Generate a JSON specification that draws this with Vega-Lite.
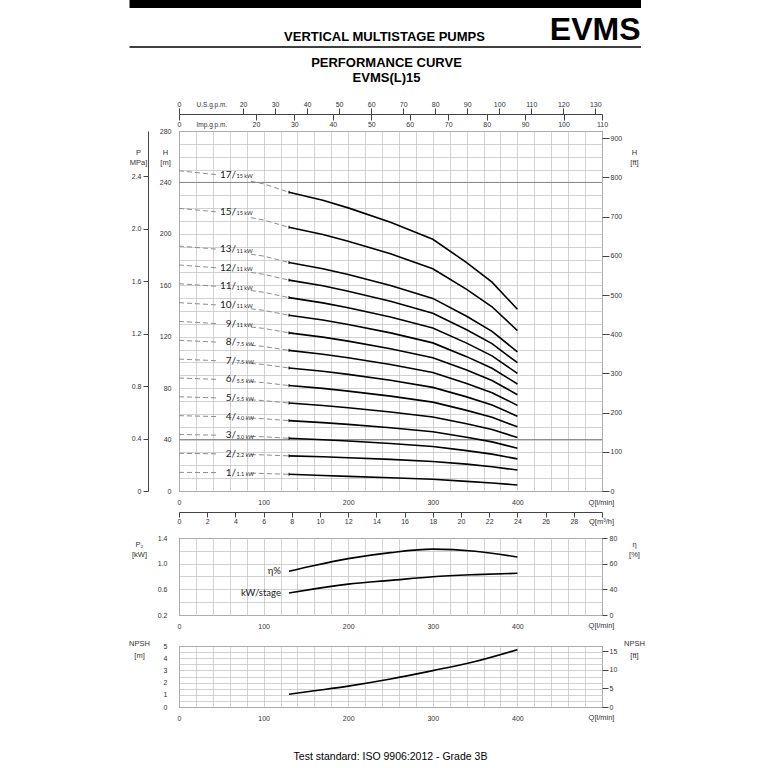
{
  "$schema": "https://vega.github.io/schema/vega-lite/v6.json",
  "padding": {"left": 128, "top": 0, "right": 4, "bottom": 4},
  "datasets": {
    "dash": [
      {"n":1,"p":"a","Q":0,"H":14.5},{"n":1,"p":"a","Q":45,"H":14.3},{"n":1,"p":"b","Q":85,"H":13.9},{"n":1,"p":"b","Q":100,"H":13.6},{"n":1,"p":"b","Q":130,"H":13.0},
      {"n":2,"p":"a","Q":0,"H":29.3},{"n":2,"p":"a","Q":45,"H":28.9},{"n":2,"p":"b","Q":85,"H":28.3},{"n":2,"p":"b","Q":100,"H":28.1},{"n":2,"p":"b","Q":130,"H":27.3},
      {"n":3,"p":"a","Q":0,"H":44.0},{"n":3,"p":"a","Q":45,"H":43.4},{"n":3,"p":"b","Q":85,"H":42.5},{"n":3,"p":"b","Q":100,"H":42.2},{"n":3,"p":"b","Q":130,"H":41.0},
      {"n":4,"p":"a","Q":0,"H":58.6},{"n":4,"p":"a","Q":45,"H":57.9},{"n":4,"p":"b","Q":85,"H":56.7},{"n":4,"p":"b","Q":100,"H":56.2},{"n":4,"p":"b","Q":130,"H":54.7},
      {"n":5,"p":"a","Q":0,"H":73.3},{"n":5,"p":"a","Q":45,"H":72.4},{"n":5,"p":"b","Q":85,"H":70.9},{"n":5,"p":"b","Q":100,"H":70.3},{"n":5,"p":"b","Q":130,"H":68.4},
      {"n":6,"p":"a","Q":0,"H":87.9},{"n":6,"p":"a","Q":45,"H":86.8},{"n":6,"p":"b","Q":85,"H":85.0},{"n":6,"p":"b","Q":100,"H":84.3},{"n":6,"p":"b","Q":130,"H":82.0},
      {"n":7,"p":"a","Q":0,"H":102.6},{"n":7,"p":"a","Q":45,"H":101.3},{"n":7,"p":"b","Q":85,"H":99.2},{"n":7,"p":"b","Q":100,"H":98.4},{"n":7,"p":"b","Q":130,"H":95.7},
      {"n":8,"p":"a","Q":0,"H":117.2},{"n":8,"p":"a","Q":45,"H":115.8},{"n":8,"p":"b","Q":85,"H":113.4},{"n":8,"p":"b","Q":100,"H":112.4},{"n":8,"p":"b","Q":130,"H":109.4},
      {"n":9,"p":"a","Q":0,"H":131.9},{"n":9,"p":"a","Q":45,"H":130.2},{"n":9,"p":"b","Q":85,"H":127.5},{"n":9,"p":"b","Q":100,"H":126.5},{"n":9,"p":"b","Q":130,"H":123.0},
      {"n":10,"p":"a","Q":0,"H":146.5},{"n":10,"p":"a","Q":45,"H":144.7},{"n":10,"p":"b","Q":85,"H":141.7},{"n":10,"p":"b","Q":100,"H":140.5},{"n":10,"p":"b","Q":130,"H":136.7},
      {"n":11,"p":"a","Q":0,"H":161.2},{"n":11,"p":"a","Q":45,"H":159.2},{"n":11,"p":"b","Q":85,"H":155.9},{"n":11,"p":"b","Q":100,"H":154.6},{"n":11,"p":"b","Q":130,"H":150.4},
      {"n":12,"p":"a","Q":0,"H":175.8},{"n":12,"p":"a","Q":45,"H":173.6},{"n":12,"p":"b","Q":85,"H":170.0},{"n":12,"p":"b","Q":100,"H":168.6},{"n":12,"p":"b","Q":130,"H":164.0},
      {"n":13,"p":"a","Q":0,"H":190.5},{"n":13,"p":"a","Q":45,"H":188.1},{"n":13,"p":"b","Q":85,"H":184.2},{"n":13,"p":"b","Q":100,"H":182.7},{"n":13,"p":"b","Q":130,"H":177.7},
      {"n":15,"p":"a","Q":0,"H":219.8},{"n":15,"p":"a","Q":45,"H":217.1},{"n":15,"p":"b","Q":85,"H":212.6},{"n":15,"p":"b","Q":100,"H":210.8},{"n":15,"p":"b","Q":130,"H":205.1},
      {"n":17,"p":"a","Q":0,"H":249.1},{"n":17,"p":"a","Q":45,"H":246.0},{"n":17,"p":"b","Q":85,"H":240.9},{"n":17,"p":"b","Q":100,"H":238.9},{"n":17,"p":"b","Q":130,"H":232.4}
    ],
    "solid": [
      {"n":1,"Q":130,"H":13.0},{"n":1,"Q":170,"H":12.0},{"n":1,"Q":200,"H":11.4},{"n":1,"Q":250,"H":10.3},{"n":1,"Q":300,"H":9.1},{"n":1,"Q":340,"H":7.5},{"n":1,"Q":370,"H":6.2},{"n":1,"Q":400,"H":4.7},
      {"n":2,"Q":130,"H":27.3},{"n":2,"Q":170,"H":26.6},{"n":2,"Q":200,"H":25.9},{"n":2,"Q":250,"H":24.6},{"n":2,"Q":300,"H":23.0},{"n":2,"Q":340,"H":20.9},{"n":2,"Q":370,"H":18.9},{"n":2,"Q":400,"H":16.3},
      {"n":3,"Q":130,"H":41.0},{"n":3,"Q":170,"H":39.9},{"n":3,"Q":200,"H":38.9},{"n":3,"Q":250,"H":36.9},{"n":3,"Q":300,"H":34.6},{"n":3,"Q":340,"H":31.4},{"n":3,"Q":370,"H":28.7},{"n":3,"Q":400,"H":25.0},
      {"n":4,"Q":130,"H":54.7},{"n":4,"Q":170,"H":53.2},{"n":4,"Q":200,"H":51.8},{"n":4,"Q":250,"H":49.2},{"n":4,"Q":300,"H":46.1},{"n":4,"Q":340,"H":41.8},{"n":4,"Q":370,"H":38.2},{"n":4,"Q":400,"H":33.3},
      {"n":5,"Q":130,"H":68.4},{"n":5,"Q":170,"H":66.5},{"n":5,"Q":200,"H":64.8},{"n":5,"Q":250,"H":61.5},{"n":5,"Q":300,"H":57.6},{"n":5,"Q":340,"H":52.3},{"n":5,"Q":370,"H":47.8},{"n":5,"Q":400,"H":41.6},
      {"n":6,"Q":130,"H":82.0},{"n":6,"Q":170,"H":79.8},{"n":6,"Q":200,"H":77.7},{"n":6,"Q":250,"H":73.8},{"n":6,"Q":300,"H":69.1},{"n":6,"Q":340,"H":62.7},{"n":6,"Q":370,"H":57.3},{"n":6,"Q":400,"H":49.9},
      {"n":7,"Q":130,"H":95.7},{"n":7,"Q":170,"H":93.1},{"n":7,"Q":200,"H":90.7},{"n":7,"Q":250,"H":86.1},{"n":7,"Q":300,"H":80.6},{"n":7,"Q":340,"H":73.2},{"n":7,"Q":370,"H":66.9},{"n":7,"Q":400,"H":58.2},
      {"n":8,"Q":130,"H":109.4},{"n":8,"Q":170,"H":106.4},{"n":8,"Q":200,"H":103.6},{"n":8,"Q":250,"H":98.4},{"n":8,"Q":300,"H":92.2},{"n":8,"Q":340,"H":83.6},{"n":8,"Q":370,"H":76.4},{"n":8,"Q":400,"H":66.6},
      {"n":9,"Q":130,"H":123.0},{"n":9,"Q":170,"H":119.7},{"n":9,"Q":200,"H":116.6},{"n":9,"Q":250,"H":110.7},{"n":9,"Q":300,"H":103.7},{"n":9,"Q":340,"H":94.1},{"n":9,"Q":370,"H":86.0},{"n":9,"Q":400,"H":74.9},
      {"n":10,"Q":130,"H":136.7},{"n":10,"Q":170,"H":133.0},{"n":10,"Q":200,"H":129.5},{"n":10,"Q":250,"H":123.0},{"n":10,"Q":300,"H":115.2},{"n":10,"Q":340,"H":104.5},{"n":10,"Q":370,"H":95.5},{"n":10,"Q":400,"H":83.2},
      {"n":11,"Q":130,"H":150.4},{"n":11,"Q":170,"H":146.3},{"n":11,"Q":200,"H":142.5},{"n":11,"Q":250,"H":135.3},{"n":11,"Q":300,"H":126.7},{"n":11,"Q":340,"H":115.0},{"n":11,"Q":370,"H":105.1},{"n":11,"Q":400,"H":91.5},
      {"n":12,"Q":130,"H":164.0},{"n":12,"Q":170,"H":159.6},{"n":12,"Q":200,"H":155.4},{"n":12,"Q":250,"H":147.6},{"n":12,"Q":300,"H":138.2},{"n":12,"Q":340,"H":125.4},{"n":12,"Q":370,"H":114.6},{"n":12,"Q":400,"H":99.8},
      {"n":13,"Q":130,"H":177.7},{"n":13,"Q":170,"H":172.9},{"n":13,"Q":200,"H":168.4},{"n":13,"Q":250,"H":159.9},{"n":13,"Q":300,"H":149.8},{"n":13,"Q":340,"H":135.9},{"n":13,"Q":370,"H":124.2},{"n":13,"Q":400,"H":108.2},
      {"n":15,"Q":130,"H":205.1},{"n":15,"Q":170,"H":199.5},{"n":15,"Q":200,"H":194.3},{"n":15,"Q":250,"H":184.5},{"n":15,"Q":300,"H":172.8},{"n":15,"Q":340,"H":156.8},{"n":15,"Q":370,"H":143.3},{"n":15,"Q":400,"H":124.8},
      {"n":17,"Q":130,"H":232.4},{"n":17,"Q":170,"H":226.1},{"n":17,"Q":200,"H":220.2},{"n":17,"Q":250,"H":209.1},{"n":17,"Q":300,"H":195.8},{"n":17,"Q":340,"H":177.7},{"n":17,"Q":370,"H":162.4},{"n":17,"Q":400,"H":141.4}
    ],
    "labels": [
      {"n":1,"st":"1/","kw":"1.1 kW"},
      {"n":2,"st":"2/","kw":"2.2 kW"},
      {"n":3,"st":"3/","kw":"3.0 kW"},
      {"n":4,"st":"4/","kw":"4.0 kW"},
      {"n":5,"st":"5/","kw":"5.5 kW"},
      {"n":6,"st":"6/","kw":"5.5 kW"},
      {"n":7,"st":"7/","kw":"7.5 kW"},
      {"n":8,"st":"8/","kw":"7.5 kW"},
      {"n":9,"st":"9/","kw":"11 kW"},
      {"n":10,"st":"10/","kw":"11 kW"},
      {"n":11,"st":"11/","kw":"11 kW"},
      {"n":12,"st":"12/","kw":"11 kW"},
      {"n":13,"st":"13/","kw":"11 kW"},
      {"n":15,"st":"15/","kw":"15 kW"},
      {"n":17,"st":"17/","kw":"15 kW"}
    ],
    "kw": [
      {"Q":130,"P":0.544},{"Q":160,"P":0.607},{"Q":200,"P":0.681},{"Q":250,"P":0.739},{"Q":300,"P":0.797},{"Q":350,"P":0.829},{"Q":400,"P":0.85}
    ],
    "eta": [
      {"Q":130,"eta":54.1},{"Q":160,"eta":58.6},{"Q":200,"eta":63.9},{"Q":250,"eta":68.6},{"Q":300,"eta":71.3},{"Q":350,"eta":69.7},{"Q":400,"eta":65.2}
    ],
    "npsh": [
      {"Q":130,"NPSH":1.05},{"Q":160,"NPSH":1.33},{"Q":200,"NPSH":1.71},{"Q":250,"NPSH":2.29},{"Q":300,"NPSH":2.98},{"Q":350,"NPSH":3.73},{"Q":400,"NPSH":4.7}
    ]
  },
  "spacing": 8,
  "vconcat": [
    {
      "width": 462,
      "height": 47,
      "view": {"stroke": null},
      "data": {"values": [{}]},
      "layer": [
        {
          "mark": {"type": "rect", "color": "black"},
          "encoding": {
            "x": {"datum": -49.5, "type": "quantitative", "scale": {"domain": [0, 462], "nice": false, "zero": false}, "axis": null},
            "x2": {"datum": 462},
            "y": {"datum": 0, "type": "quantitative", "scale": {"domain": [0, 47], "nice": false, "reverse": true}, "axis": null},
            "y2": {"datum": 8}
          }
        },
        {
          "mark": {"type": "rule", "color": "black", "strokeWidth": 1.5},
          "encoding": {
            "x": {"datum": -49.5, "type": "quantitative"},
            "x2": {"datum": 462},
            "y": {"datum": 47, "type": "quantitative"}
          }
        },
        {
          "mark": {"type": "text", "font": "Liberation Sans", "fontSize": 13, "fontWeight": "bold", "align": "center", "baseline": "alphabetic", "color": "black"},
          "encoding": {
            "x": {"datum": 205.5, "type": "quantitative"},
            "y": {"datum": 40.6, "type": "quantitative"},
            "text": {"value": "VERTICAL MULTISTAGE PUMPS"}
          }
        },
        {
          "mark": {"type": "text", "font": "Liberation Sans", "fontSize": 32, "fontWeight": "bold", "align": "right", "baseline": "alphabetic", "color": "black"},
          "encoding": {
            "x": {"datum": 461.5, "type": "quantitative"},
            "y": {"datum": 39.5, "type": "quantitative"},
            "text": {"value": "EVMS"}
          }
        }
      ]
    },
    {
      "width": 423,
      "height": 360,
      "title": {"text": ["PERFORMANCE CURVE", "EVMS(L)15"], "font": "Liberation Sans", "fontSize": 13, "fontWeight": "bold", "lineHeight": 15, "offset": 15, "anchor": "middle", "color": "black", "dx": -4},
      "layer": [
        {
          "data": {"values": [{"Q": 0, "H": 40}, {"Q": 0, "H": 240}]},
          "mark": {"type": "rule", "color": "#888", "strokeWidth": 1},
          "encoding": {"y": {"field": "H", "type": "quantitative", "scale": {"domain": [0, 280], "nice": false, "zero": false}, "axis": null}}
        },
        {
          "data": {"name": "dash"},
          "mark": {"type": "line", "color": "#8c8c8c", "strokeWidth": 1, "strokeDash": [5, 3]},
          "encoding": {
            "x": {
              "field": "Q", "type": "quantitative",
              "scale": {"domain": [0, 500], "nice": false, "zero": false},
              "axis": {
                "values": [0,20,40,60,80,100,120,140,160,180,200,220,240,260,280,300,320,340,360,380,400,420,440,460,480,500],
                "labelExpr": "datum.value % 100 == 0 && datum.value < 500 ? datum.label : ''",
                "ticks": false, "tickSize": 0, "labelPadding": 7, "labelFlush": false, "labelOverlap": false,
                "grid": true, "domain": false,
                "title": "Q[l/min]", "titleX": 422, "titleY": 11, "titleAlign": "center", "titleBaseline": "middle"
              }
            },
            "y": {
              "field": "H", "type": "quantitative",
              "scale": {"domain": [0, 280], "nice": false, "zero": false},
              "axis": {
                "values": [0,10,20,30,40,50,60,70,80,90,100,110,120,130,140,150,160,170,180,190,200,210,220,230,240,250,260,270,280],
                "labelExpr": "datum.value % 40 == 0 ? datum.label : ''",
                "ticks": false, "tickSize": 0, "labelPadding": 8, "labelOverlap": false, "labelFlush": false,
                "grid": true, "domain": false,
                "title": ["H", "[m]"], "titleAngle": 0, "titleX": -14, "titleY": 17, "titleAlign": "center", "titleBaseline": "top", "titleLineHeight": 10
              }
            },
            "detail": [{"field": "n"}, {"field": "p"}]
          }
        },
        {
          "data": {"name": "solid"},
          "mark": {"type": "line", "color": "black", "strokeWidth": 1.6},
          "encoding": {
            "x": {"field": "Q", "type": "quantitative", "scale": {"domain": [0, 500], "nice": false, "zero": false}, "axis": null},
            "y": {"field": "H", "type": "quantitative", "scale": {"domain": [0, 280], "nice": false, "zero": false}, "axis": null},
            "detail": {"field": "n"}
          }
        },
        {
          "data": {"name": "solid"},
          "transform": [{"filter": "datum.Q == 130"}],
          "mark": {"type": "point", "shape": "M0,-1L0,1", "size": 9, "filled": false, "stroke": "black", "strokeWidth": 1, "opacity": 1},
          "encoding": {
            "x": {"field": "Q", "type": "quantitative", "scale": {"domain": [0, 500], "nice": false, "zero": false}, "axis": null},
            "y": {"field": "H", "type": "quantitative", "scale": {"domain": [0, 280], "nice": false, "zero": false}, "axis": null}
          }
        },
        {
          "data": {"name": "dash"},
          "transform": [
            {"filter": "datum.Q == 45"},
            {"lookup": "n", "from": {"data": {"name": "labels"}, "key": "n", "fields": ["st", "kw"]}}
          ],
          "mark": {"type": "text", "align": "right", "baseline": "middle", "dx": 19, "font": "Lato", "fontSize": 10, "color": "#222"},
          "encoding": {
            "x": {"field": "Q", "type": "quantitative", "scale": {"domain": [0, 500], "nice": false, "zero": false}, "axis": null},
            "y": {"field": "H", "type": "quantitative", "scale": {"domain": [0, 280], "nice": false, "zero": false}, "axis": null},
            "text": {"field": "st"}
          }
        },
        {
          "data": {"name": "dash"},
          "transform": [
            {"filter": "datum.Q == 45"},
            {"lookup": "n", "from": {"data": {"name": "labels"}, "key": "n", "fields": ["st", "kw"]}}
          ],
          "mark": {"type": "text", "align": "left", "baseline": "middle", "dx": 19.5, "dy": 1.5, "font": "Lato", "fontSize": 5.5, "color": "#222"},
          "encoding": {
            "x": {"field": "Q", "type": "quantitative", "scale": {"domain": [0, 500], "nice": false, "zero": false}, "axis": null},
            "y": {"field": "H", "type": "quantitative", "scale": {"domain": [0, 280], "nice": false, "zero": false}, "axis": null},
            "text": {"field": "kw"}
          }
        },
        {
          "data": {"values": [{"gpm": 0, "H": 0}]},
          "mark": {"type": "point", "opacity": 0},
          "encoding": {
            "x": {
              "field": "gpm", "type": "quantitative",
              "scale": {"domain": [0, 132.1], "nice": false, "zero": false},
              "axis": {
                "orient": "top", "offset": 17,
                "values": [0,20,30,40,50,60,70,80,90,100,110,120,130],
                "tickSize": 6, "labelPadding": 1, "labelFlush": false, "labelOverlap": false,
                "grid": false, "domain": true,
                "title": "U.S.g.p.m.", "titleFontSize": 6.5, "titleX": 17, "titleY": -10, "titleAlign": "left", "titleBaseline": "middle"
              }
            },
            "y": {"field": "H", "type": "quantitative", "scale": {"domain": [0, 280], "nice": false, "zero": false}, "axis": null}
          }
        },
        {
          "data": {"values": [{"imp": 0, "H": 0}]},
          "mark": {"type": "point", "opacity": 0},
          "encoding": {
            "x": {
              "field": "imp", "type": "quantitative",
              "scale": {"domain": [0, 110], "nice": false, "zero": false},
              "axis": {
                "orient": "top", "offset": 17,
                "values": [0,20,30,40,50,60,70,80,90,100,110],
                "tickSize": -6, "labelPadding": -4, "labelBaseline": "middle", "labelFlush": false, "labelOverlap": false,
                "grid": false, "domain": false,
                "title": "Imp.g.p.m.", "titleFontSize": 6.5, "titleX": 17, "titleY": 10, "titleAlign": "left", "titleBaseline": "middle"
              }
            },
            "y": {"field": "H", "type": "quantitative", "scale": {"domain": [0, 280], "nice": false, "zero": false}, "axis": null}
          }
        },
        {
          "data": {"values": [{"m3h": 0, "H": 0}]},
          "mark": {"type": "point", "opacity": 0},
          "encoding": {
            "x": {
              "field": "m3h", "type": "quantitative",
              "scale": {"domain": [0, 30], "nice": false, "zero": false},
              "axis": {
                "orient": "bottom", "offset": 21,
                "values": [0,2,4,6,8,10,12,14,16,18,20,22,24,26,28,30],
                "labelExpr": "datum.value < 30 ? datum.label : ''",
                "tickSize": 5, "labelPadding": 0, "labelFlush": false, "labelOverlap": false,
                "grid": false, "domain": true,
                "title": "Q[m³/h]", "titleX": 422, "titleY": 9, "titleAlign": "center", "titleBaseline": "middle"
              }
            },
            "y": {"field": "H", "type": "quantitative", "scale": {"domain": [0, 280], "nice": false, "zero": false}, "axis": null}
          }
        },
        {
          "data": {"values": [{"Q": 0, "MPa": 0}]},
          "mark": {"type": "point", "opacity": 0},
          "encoding": {
            "x": {"field": "Q", "type": "quantitative", "scale": {"domain": [0, 500], "nice": false, "zero": false}, "axis": null},
            "y": {
              "field": "MPa", "type": "quantitative",
              "scale": {"domain": [0, 2.746], "nice": false, "zero": false},
              "axis": {
                "orient": "left", "offset": 31,
                "values": [0, 0.4, 0.8, 1.2, 1.6, 2.0, 2.4],
                "labelExpr": "datum.value == 0 ? '0' : format(datum.value, '.1f')",
                "tickSize": 5, "labelPadding": 2, "labelOverlap": false, "labelFlush": false,
                "grid": false, "domain": true,
                "title": ["P", "MPa]"], "titleAngle": 0, "titleX": -10, "titleY": 17, "titleAlign": "center", "titleBaseline": "top", "titleLineHeight": 10
              }
            }
          }
        },
        {
          "data": {"values": [{"Q": 0, "ft": 0}]},
          "mark": {"type": "point", "opacity": 0},
          "encoding": {
            "x": {"field": "Q", "type": "quantitative", "scale": {"domain": [0, 500], "nice": false, "zero": false}, "axis": null},
            "y": {
              "field": "ft", "type": "quantitative",
              "scale": {"domain": [0, 918.6], "nice": false, "zero": false},
              "axis": {
                "orient": "right",
                "values": [0, 100, 200, 300, 400, 500, 600, 700, 800, 900],
                "tickSize": 7, "labelPadding": 1, "labelOverlap": false, "labelFlush": false,
                "grid": false, "domain": false,
                "title": ["H", "[ft]"], "titleAngle": 0, "titleX": 32, "titleY": 17, "titleAlign": "center", "titleBaseline": "top", "titleLineHeight": 10
              }
            }
          }
        }
      ],
      "resolve": {"scale": {"x": "independent", "y": "independent"}}
    },
    {
      "width": 423,
      "height": 77,
      "layer": [
        {
          "data": {"name": "kw"},
          "mark": {"type": "line", "color": "black", "strokeWidth": 1.6, "interpolate": "monotone"},
          "encoding": {
            "x": {
              "field": "Q", "type": "quantitative",
              "scale": {"domain": [0, 500], "nice": false, "zero": false},
              "axis": {
                "values": [0,20,40,60,80,100,120,140,160,180,200,220,240,260,280,300,320,340,360,380,400,420,440,460,480,500],
                "labelExpr": "datum.value % 100 == 0 && datum.value < 500 ? datum.label : ''",
                "ticks": false, "tickSize": 0, "labelPadding": 7, "labelFlush": false, "labelOverlap": false,
                "grid": true, "domain": false,
                "title": "Q[l/min]", "titleX": 422, "titleY": 10, "titleAlign": "center", "titleBaseline": "middle"
              }
            },
            "y": {
              "field": "P", "type": "quantitative",
              "scale": {"domain": [0.2, 1.4], "nice": false, "zero": false},
              "axis": {
                "values": [0.2, 0.4, 0.6, 0.8, 1.0, 1.2, 1.4],
                "labelExpr": "round(datum.value * 10) % 4 == 2 ? format(datum.value, '.1f') : ''",
                "ticks": false, "tickSize": 0, "labelPadding": 12, "labelOverlap": false, "labelFlush": false,
                "grid": true, "domain": false,
                "title": ["P₂", "[kW]"], "titleAngle": 0, "titleX": -40, "titleY": 2, "titleAlign": "center", "titleBaseline": "top", "titleLineHeight": 10
              }
            }
          }
        },
        {
          "data": {"name": "kw"},
          "transform": [{"filter": "datum.Q == 130"}],
          "mark": {"type": "text", "align": "right", "baseline": "middle", "dx": -8, "font": "Lato", "fontSize": 9.5, "color": "#222"},
          "encoding": {
            "x": {"field": "Q", "type": "quantitative", "scale": {"domain": [0, 500], "nice": false, "zero": false}, "axis": null},
            "y": {"field": "P", "type": "quantitative", "scale": {"domain": [0.2, 1.4], "nice": false, "zero": false}, "axis": null},
            "text": {"value": "kW/stage"}
          }
        },
        {
          "data": {"name": "eta"},
          "mark": {"type": "line", "color": "black", "strokeWidth": 1.6, "interpolate": "monotone"},
          "encoding": {
            "x": {"field": "Q", "type": "quantitative", "scale": {"domain": [0, 500], "nice": false, "zero": false}, "axis": null},
            "y": {
              "field": "eta", "type": "quantitative",
              "scale": {"domain": [20, 80], "nice": false, "zero": false},
              "axis": {
                "orient": "right",
                "values": [20, 40, 60, 80],
                "labelExpr": "datum.value == 20 ? '0' : datum.label",
                "tickSize": 5, "labelPadding": 2, "labelOverlap": false, "labelFlush": false,
                "grid": false, "domain": false,
                "title": ["η", "[%]"], "titleAngle": 0, "titleX": 32, "titleY": 2, "titleAlign": "center", "titleBaseline": "top", "titleLineHeight": 10
              }
            }
          }
        },
        {
          "data": {"name": "eta"},
          "transform": [{"filter": "datum.Q == 130"}],
          "mark": {"type": "text", "align": "right", "baseline": "middle", "dx": -8, "font": "Lato", "fontSize": 9.5, "color": "#222"},
          "encoding": {
            "x": {"field": "Q", "type": "quantitative", "scale": {"domain": [0, 500], "nice": false, "zero": false}, "axis": null},
            "y": {"field": "eta", "type": "quantitative", "scale": {"domain": [20, 80], "nice": false, "zero": false}, "axis": null},
            "text": {"value": "η%"}
          }
        }
      ],
      "resolve": {"scale": {"x": "independent", "y": "independent"}}
    },
    {
      "width": 423,
      "height": 61,
      "title": {"text": "Test standard: ISO 9906:2012 - Grade 3B", "orient": "bottom", "anchor": "middle", "font": "Liberation Sans", "fontSize": 10.5, "fontWeight": "normal", "offset": 31, "color": "black"},
      "layer": [
        {
          "data": {"name": "npsh"},
          "mark": {"type": "line", "color": "black", "strokeWidth": 1.6, "interpolate": "monotone"},
          "encoding": {
            "x": {
              "field": "Q", "type": "quantitative",
              "scale": {"domain": [0, 500], "nice": false, "zero": false},
              "axis": {
                "values": [0,20,40,60,80,100,120,140,160,180,200,220,240,260,280,300,320,340,360,380,400,420,440,460,480,500],
                "labelExpr": "datum.value % 100 == 0 && datum.value < 500 ? datum.label : ''",
                "ticks": false, "tickSize": 0, "labelPadding": 7, "labelFlush": false, "labelOverlap": false,
                "grid": true, "domain": false,
                "title": "Q[l/min]", "titleX": 422, "titleY": 10, "titleAlign": "center", "titleBaseline": "middle"
              }
            },
            "y": {
              "field": "NPSH", "type": "quantitative",
              "scale": {"domain": [0, 5], "nice": false, "zero": false},
              "axis": {
                "values": [0, 0.5, 1, 1.5, 2, 2.5, 3, 3.5, 4, 4.5, 5],
                "labelExpr": "datum.value % 1 == 0 ? format(datum.value, 'd') : ''",
                "ticks": false, "tickSize": 0, "labelPadding": 12, "labelOverlap": false, "labelFlush": false,
                "grid": true, "domain": false,
                "title": ["NPSH", "[m]"], "titleAngle": 0, "titleX": -40, "titleY": -7, "titleAlign": "center", "titleBaseline": "top", "titleLineHeight": 12
              }
            }
          }
        },
        {
          "data": {"values": [{"Q": 0, "ft": 0}]},
          "mark": {"type": "point", "opacity": 0},
          "encoding": {
            "x": {"field": "Q", "type": "quantitative", "scale": {"domain": [0, 500], "nice": false, "zero": false}, "axis": null},
            "y": {
              "field": "ft", "type": "quantitative",
              "scale": {"domain": [0, 16.404], "nice": false, "zero": false},
              "axis": {
                "orient": "right",
                "values": [0, 5, 10, 15],
                "tickSize": 6, "labelPadding": 1, "labelOverlap": false, "labelFlush": false,
                "grid": false, "domain": false,
                "title": ["NPSH", "[ft]"], "titleAngle": 0, "titleX": 32, "titleY": -7, "titleAlign": "center", "titleBaseline": "top", "titleLineHeight": 12
              }
            }
          }
        }
      ],
      "resolve": {"scale": {"x": "independent", "y": "independent"}}
    }
  ],
  "config": {
    "font": "Liberation Sans",
    "view": {"stroke": "#444", "strokeWidth": 1},
    "axis": {
      "labelFont": "Liberation Sans", "labelFontSize": 7, "labelColor": "#333",
      "titleFont": "Liberation Sans", "titleFontSize": 7.5, "titleFontWeight": "normal", "titleColor": "#333",
      "gridColor": "#c6c6c6", "gridWidth": 0.8, "domainColor": "#444", "tickColor": "#444"
    }
  }
}
